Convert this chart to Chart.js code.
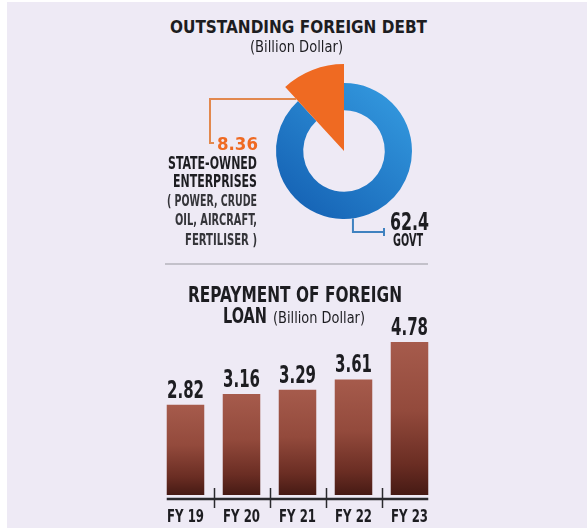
<!DOCTYPE html>
<html>
<head>
<meta charset="utf-8">
<script src="https://cdn.jsdelivr.net/npm/chart.js@4.4.0/dist/chart.umd.min.js"></script>
<style>
  html, body { margin: 0; padding: 0; }
  body {
    width: 587px; height: 528px; overflow: hidden; position: relative; background: #fff;
    font-family: 'DejaVu Sans Condensed', 'Liberation Sans Narrow', 'DejaVu Sans', sans-serif;
    color: #1d1d21;
  }
  #panel { position: absolute; left: 7px; top: 2px; right: 0; bottom: 0; background: #eeeaf5; }
  .t { position: absolute; white-space: nowrap; line-height: 1; transform-origin: 0 0; z-index: 2; }
  #rule { position: absolute; left: 165px; top: 263px; width: 263px; height: 2px; background: #c3c1ca; }
  #donut { position: absolute; left: 204px; top: 41px; }
  #bars { position: absolute; left: 140px; top: 300px; }
</style>
</head>
<body>
<div id="panel"></div>
<div id="rule"></div>
<canvas id="donut" width="280" height="220"></canvas>
<canvas id="bars" width="320" height="240"></canvas>
<script>
// outstanding foreign debt, billion dollar
const debtLabels = ['Govt', 'State-owned enterprises'];
const debtValues = [62.4, 8.36];

// repayment of foreign loan, billion dollar
const fyLabels = ['FY 19', 'FY 20', 'FY 21', 'FY 22', 'FY 23'];
const repayment = [2.82, 3.16, 3.29, 3.61, 4.78];

const FONT = "'DejaVu Sans Condensed', 'Liberation Sans Narrow', 'DejaVu Sans', sans-serif";
const ORANGE = '#ef6a22';

// text blocks: left edge, cap top, font size, target width
const textItems = [
    { text: 'OUTSTANDING FOREIGN DEBT', left: 170, cap: 20, size: 18, bold: true, width: 257 },
    { text: '(Billion Dollar)', left: 250, cap: 42, size: 15, bold: false, width: 93 },
    { text: String(debtValues[1]), left: 217, cap: 137, size: 18, bold: true, width: 41, color: ORANGE },
    { text: 'STATE-OWNED', left: 168, cap: 157, size: 17, bold: true, width: 89 },
    { text: 'ENTERPRISES', left: 173, cap: 175, size: 17, bold: true, width: 84 },
    { text: '( POWER, CRUDE', left: 167, cap: 195, size: 16, bold: true, width: 90, color: '#35353a' },
    { text: 'OIL, AIRCRAFT,', left: 175, cap: 214, size: 16, bold: true, width: 82, color: '#35353a' },
    { text: 'FERTILISER )', left: 185, cap: 234, size: 16, bold: true, width: 72, color: '#35353a' },
    { text: String(debtValues[0]), left: 390, cap: 212, size: 25, bold: true, width: 39 },
    { text: 'GOVT', left: 393, cap: 233, size: 18, bold: true, width: 30 },
    { text: 'REPAYMENT OF FOREIGN', left: 188, cap: 287, size: 22, bold: true, width: 214 },
    { text: 'LOAN', left: 223, cap: 308, size: 22, bold: true, width: 44 },
    { text: '(Billion Dollar)', left: 273, cap: 312, size: 16, bold: false, width: 92 }
];

textItems.forEach(item => {
    const el = document.createElement('div');
    el.className = 't';
    el.textContent = item.text;
    el.style.fontSize = item.size + 'px';
    el.style.fontWeight = item.bold ? 'bold' : 'normal';
    if (item.color) el.style.color = item.color;
    document.body.appendChild(el);
    const w = el.getBoundingClientRect().width;
    el.style.left = item.left + 'px';
    el.style.top = (item.cap - 0.12 * item.size) + 'px';
    el.style.transform = 'scaleX(' + (item.width / w) + ')';
});

// orange slice sticks out as a full wedge, leader lines to the labels
const donutExtras = {
    id: 'donutExtras',
    afterDatasetsUpdate(chart) {
        const arc = chart.getDatasetMeta(0).data[1];
        arc.innerRadius = 0;
        arc.outerRadius = 87;
    },
    afterDatasetsDraw(chart) {
        const ctx = chart.ctx;
        const govt = chart.getDatasetMeta(0).data[0];
        const soe = chart.getDatasetMeta(0).data[1];
        ctx.save();

        // SOE leader: from the wedge's left edge across and down to "8.36"
        const ly = -52;
        const t = ly / Math.sin(soe.startAngle);
        const ex = soe.x + t * Math.cos(soe.startAngle);
        ctx.strokeStyle = '#e2884e';
        ctx.lineWidth = 2;
        ctx.beginPath();
        ctx.moveTo(ex, soe.y + ly);
        ctx.lineTo(6, soe.y + ly);
        ctx.lineTo(6, soe.y - 8);
        ctx.lineTo(10, soe.y - 8);
        ctx.stroke();

        // Govt leader: down from the ring bottom, right to "62.4"
        const a = Math.PI * 0.458;
        const gx = govt.x + govt.outerRadius * Math.cos(a);
        const gy = govt.y + govt.outerRadius * Math.sin(a);
        ctx.strokeStyle = '#3f82c0';
        ctx.beginPath();
        ctx.moveTo(gx, gy);
        ctx.lineTo(gx, 191);
        ctx.lineTo(180, 191);
        ctx.stroke();
        ctx.beginPath();
        ctx.moveTo(180, 187);
        ctx.lineTo(180, 195);
        ctx.stroke();
        ctx.restore();
    }
};

new Chart(document.getElementById('donut'), {
    type: 'doughnut',
    data: {
        labels: debtLabels,
        datasets: [{
            data: debtValues,
            borderWidth: 0,
            backgroundColor: (c) => {
                if (c.dataIndex === 1) return ORANGE;
                const area = c.chart.chartArea;
                if (!area) return '#1e78c8';
                const cx = (area.left + area.right) / 2, cy = (area.top + area.bottom) / 2;
                const g = c.chart.ctx.createLinearGradient(cx + 50, cy - 60, cx - 50, cy + 60);
                g.addColorStop(0, '#3398de');
                g.addColorStop(1, '#1562b4');
                return g;
            }
        }]
    },
    options: {
        responsive: false,
        animation: false,
        radius: 68,
        cutout: '60%',
        plugins: { legend: { display: false }, tooltip: { enabled: false } }
    },
    plugins: [donutExtras]
});

// condensed text, squeezed horizontally to the picture's narrow type
function narrowText(ctx, text, x, y, kx) {
    ctx.save();
    ctx.translate(x, y);
    ctx.scale(kx, 1);
    ctx.fillText(text, 0, 0);
    ctx.restore();
}

// value labels, category labels, baseline and separators
const barExtras = {
    id: 'barExtras',
    afterDatasetsDraw(chart) {
        const ctx = chart.ctx;
        const xs = chart.scales.x;
        const bars = chart.getDatasetMeta(0).data;
        const y0 = chart.scales.y.getPixelForValue(0);
        ctx.save();
        ctx.fillStyle = '#1d1d21';
        ctx.textAlign = 'center';
        ctx.textBaseline = 'alphabetic';

        ctx.font = 'bold 25px ' + FONT;
        const kv = 37 / ctx.measureText('2.82').width;
        bars.forEach((bar, i) => {
            narrowText(ctx, repayment[i].toFixed(2), bar.x, bar.y - 7, kv);
        });

        ctx.font = 'bold 18px ' + FONT;
        const kt = 37 / ctx.measureText(fyLabels[0]).width;
        xs.ticks.forEach((tick, i) => {
            narrowText(ctx, xs.getLabelForValue(tick.value), xs.getPixelForTick(i), y0 + 27, kt);
        });

        ctx.strokeStyle = '#2a2a2e';
        ctx.lineWidth = 2.5;
        const first = bars[0], last = bars[bars.length - 1];
        ctx.beginPath();
        ctx.moveTo(first.x - first.width / 2, y0 + 4);
        ctx.lineTo(last.x + last.width / 2, y0 + 4);
        ctx.stroke();
        ctx.lineWidth = 1.5;
        for (let i = 1; i < bars.length; i++) {
            const sx = Math.round((bars[i - 1].x + bars[i].x) / 2) + 0.5;
            ctx.beginPath();
            ctx.moveTo(sx, y0 - 7);
            ctx.lineTo(sx, y0 + 13);
            ctx.stroke();
        }
        ctx.restore();
    }
};

new Chart(document.getElementById('bars'), {
    type: 'bar',
    data: {
        labels: fyLabels,
        datasets: [{
            data: repayment,
            barPercentage: 0.67,
            categoryPercentage: 1,
            backgroundColor: (c) => {
                const chart = c.chart;
                if (!chart.chartArea || !chart.scales.y) return '#8a3f30';
                const top = chart.scales.y.getPixelForValue(c.raw);
                const bottom = chart.scales.y.getPixelForValue(0);
                const g = chart.ctx.createLinearGradient(0, top, 0, bottom);
                g.addColorStop(0, '#a65b4c');
                g.addColorStop(0.45, '#934a3c');
                g.addColorStop(0.8, '#6a2d23');
                g.addColorStop(1, '#461a14');
                return g;
            }
        }]
    },
    options: {
        responsive: false,
        animation: false,
        layout: { padding: { left: 17.5, right: 22.5, top: 35, bottom: 45 } },
        scales: {
            x: {
                grid: { display: false, drawTicks: false },
                border: { display: false },
                ticks: { display: false }
            },
            y: { display: false, min: 0, max: 5 }
        },
        plugins: { legend: { display: false }, tooltip: { enabled: false } }
    },
    plugins: [barExtras]
});
</script>
</body>
</html>
